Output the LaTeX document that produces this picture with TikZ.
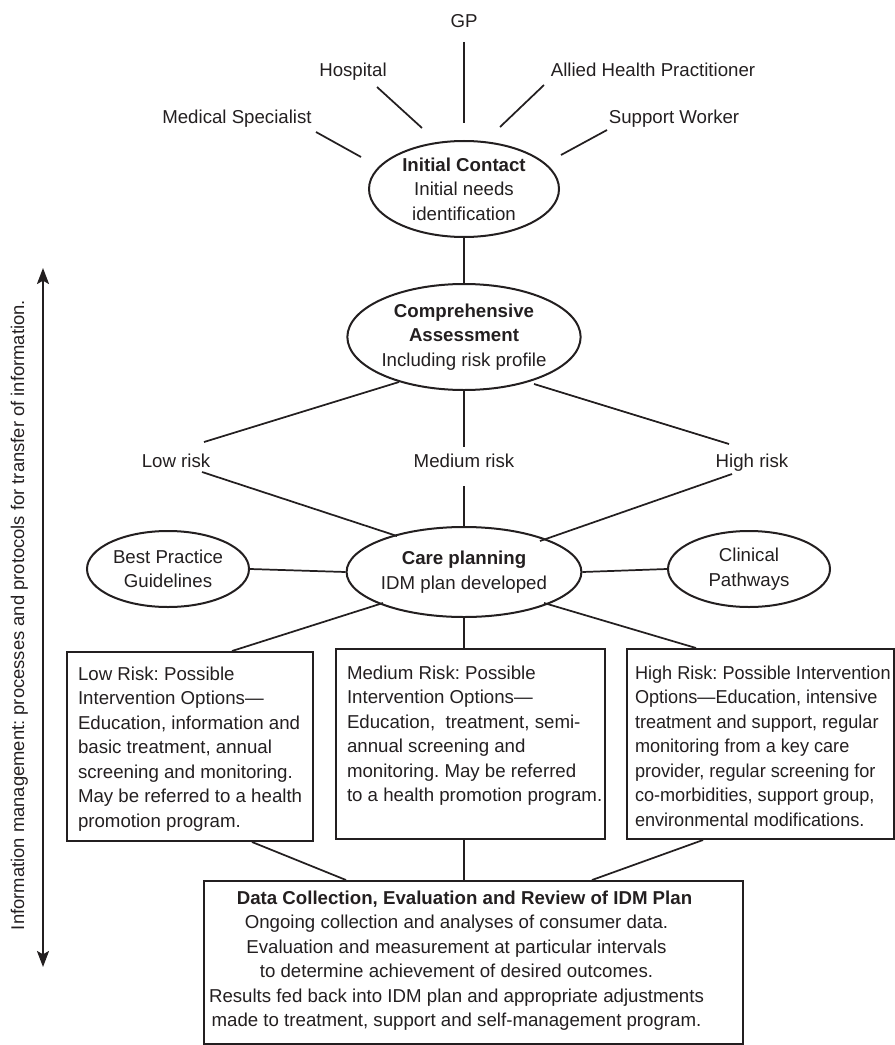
\documentclass[tikz,border=0pt]{standalone}
\usepackage{fontspec}
\setmainfont{Liberation Sans}
\newfontfamily\narrowfont[FakeStretch=0.97]{Liberation Sans}
\usetikzlibrary{shapes.geometric,arrows.meta,calc}
\definecolor{ink}{HTML}{231F20}
\frenchspacing
\begin{document}
\begin{tikzpicture}[x=0.75pt,y=-0.75pt,
  txt/.style={font=\fontsize{14pt}{18.4pt}\selectfont, text=ink},
  lbl/.style={txt, inner sep=0pt, anchor=base},
  oval/.style={txt, ellipse, draw=ink, line width=1.5pt, align=center, inner sep=0pt},
  ibox/.style={txt, rectangle, draw=ink, line width=1.5pt, inner ysep=0pt, anchor=north west},
  conn/.style={draw=ink, line width=1.3pt},
  dblarrow/.style={draw=ink, line width=1.6pt, {Stealth[length=12pt,width=9pt,inset=2.5pt]}-{Stealth[length=12pt,width=9pt,inset=2.5pt]}}]
\useasboundingbox (0,0) rectangle (895,1045);

% top labels
\node[lbl] (gp)   at (464,28)  {GP};
\node[lbl] (hosp) at (353,77)  {Hospital};
\node[lbl] (ahp)  at (653,77)  {Allied Health Practitioner};
\node[lbl] (med)  at (237,124) {Medical Specialist};
\node[lbl] (sw)   at (674,124) {Support Worker};

% ellipses
\node[oval, minimum width=142.5pt, minimum height=72pt] (ic) at (464,189)
  {\textbf{Initial Contact}\\Initial needs\\identification};
\node[oval, minimum width=169.5pt, minimum height=79.5pt] (ca) at (464,337)
  {\textbf{Comprehensive}\\\textbf{Assessment}\\Including risk profile};
\node[oval, minimum width=159pt, minimum height=67.5pt] (cp) at (464,572)
  {\textbf{Care planning}\\IDM plan developed};
\node[oval, minimum width=121.5pt, minimum height=57pt] (bp) at (168,569)
  {Best Practice\\Guidelines};
\node[oval, minimum width=121.5pt, minimum height=57pt] (clin) at (749,569)
  {Clinical\\Pathways};

% risk labels
\node[lbl] (lowr)  at (176,467) {Low risk};
\node[lbl] (medr)  at (464,467) {Medium risk};
\node[lbl] (highr) at (752,467) {High risk};

% intervention boxes
\node[ibox, inner xsep=8.25pt] (lowbox) at (66,651)
  {\parbox[c][141.75pt][t]{168pt}{\noindent\rule{0pt}{21pt}\begin{tabular}[t]{@{}l@{}}Low Risk: Possible\\Intervention Options—\\Education, information and\\basic treatment, annual\\screening and monitoring.\\May be referred to a health\\promotion program.\end{tabular}}};
\node[ibox, inner xsep=8.25pt] (medbox) at (335,648)
  {\parbox[c][142.5pt][t]{185.25pt}{\noindent\rule{0pt}{22.5pt}\begin{tabular}[t]{@{}l@{}}Medium Risk: Possible\\Intervention Options—\\Education,\ \ treatment, semi-\\annual screening and\\monitoring. May be referred\\to a health promotion program.\end{tabular}}};
\node[ibox, inner xsep=6pt] (highbox) at (626,648)
  {\parbox[c][142.5pt][t]{188.25pt}{\noindent\narrowfont\rule{0pt}{22.5pt}\begin{tabular}[t]{@{}l@{}}High Risk: Possible Intervention\\Options—Education, intensive\\treatment and support, regular\\monitoring from a key care\\provider, regular screening for\\co-morbidities, support group,\\environmental modifications.\end{tabular}}};

% data box
\node[ibox, inner xsep=0pt] (data) at (203,880)
  {\parbox[c][122.25pt][t]{378.75pt}{\centering\rule{0pt}{17.25pt}\hspace*{12pt}\textbf{Data Collection, Evaluation and Review of IDM Plan}\\Ongoing collection and analyses of consumer data.\\Evaluation and measurement at particular intervals\\to determine achievement of desired outcomes.\\Results fed back into IDM plan and appropriate adjustments\\made to treatment, support and self-management program.}\rule{25.5pt}{0pt}};

% side arrow and text
\coordinate (arrtop) at (43,268);
\coordinate (arrbot) at (43,967);
\draw[dblarrow] (arrtop) -- (arrbot);
\node[lbl, font=\fontsize{13.8pt}{16pt}\selectfont, rotate=90] (info) at (24,615)
  {Information management: processes and protocols for transfer of information.};

% connectors: sources to initial contact
\draw[conn] ($(gp.base)+(0,14)$)    -- ($(ic)+(0,-66)$);
\draw[conn] ($(hosp.base)+(24,10)$) -- ($(ic)+(-42,-61)$);
\draw[conn] ($(ahp.base)+(-109,8)$) -- ($(ic)+(36,-62)$);
\draw[conn] ($(med.base)+(79,8)$)   -- ($(ic)+(-103,-32)$);
\draw[conn] ($(sw.base)+(-67,6)$)   -- ($(ic)+(97,-34)$);
\draw[conn] (ic.south) -- (ca.north);

% assessment to risk labels
\draw[conn] ($(ca)+(-65,45)$) -- ($(lowr.base)+(28,-25)$);
\draw[conn] (ca.south) -- ($(medr.base)+(0,-20)$);
\draw[conn] ($(ca)+(70,47)$) -- ($(highr.base)+(-23,-23)$);

% risk labels to care planning
\draw[conn] ($(lowr.base)+(26,5)$) -- ($(cp)+(-67,-36)$);
\draw[conn] ($(medr.base)+(0,19)$) -- (cp.north);
\draw[conn] ($(highr.base)+(-20,7)$) -- ($(cp)+(76,-31)$);

% side ellipses
\draw[conn] (bp.east) -- (cp.west);
\draw[conn] (cp.east) -- (clin.west);

% care planning to boxes
\draw[conn] ($(cp)+(-81,31)$) -- ($(lowbox.north)+(42,0)$);
\draw[conn] (cp.south) -- (cp.south |- medbox.north);
\draw[conn] ($(cp)+(80,31)$) -- ($(highbox.north)+(-64.5,0)$);

% boxes to data
\draw[conn] ($(lowbox.south)+(62,0)$) -- ($(data.north)+(-127.5,0)$);
\draw[conn] (cp.south |- medbox.south) -- (cp.south |- data.north);
\draw[conn] ($(highbox.south)+(-57.5,0)$) -- ($(data.north)+(118.5,0)$);
\end{tikzpicture}
\end{document}
